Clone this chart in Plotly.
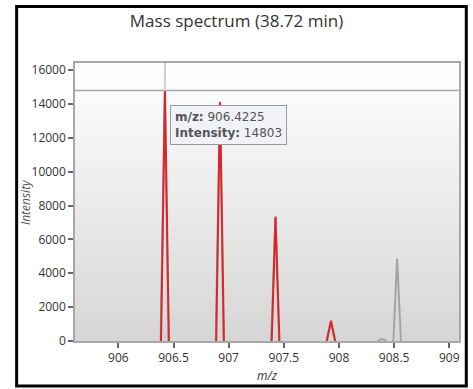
import plotly.graph_objects as go

# ── Data ──────────────────────────────────────────────────
# profile points of the matched isotope peaks (red)
red_mz = [906.387, 906.4225, 906.458, None,
          906.887, 906.922, 906.957, None,
          907.390, 907.425, 907.460, None,
          907.890, 907.928, 907.966]
red_int = [0, 14803, 0, None,
           0, 14120, 0, None,
           0, 7350, 0, None,
           0, 1200, 0]

# full measured profile (grey), drawn under the red one
grey_mz = [906.383, 906.4205, 906.455, None,
           906.883, 906.920, 906.954, None,
           907.386, 907.423, 907.457, None,
           907.886, 907.925, 907.962, None,
           908.350, 908.390, 908.430, None,
           908.493, 908.527, 908.562]
grey_int = [0, 14700, 0, None,
            0, 14050, 0, None,
            0, 7300, 0, None,
            0, 1150, 0, None,
            0, 130, 0, None,
            0, 4850, 0]

y_ticks = [0, 2000, 4000, 6000, 8000, 10000, 12000, 14000, 16000]
x_ticks = [906, 906.5, 907, 907.5, 908, 908.5, 909]

x_range = [905.607, 909.088]
y_range = [0, 16420]

sel_mz = 906.4225
sel_int = 14803

FONT = "Open Sans"

fig = go.Figure()

# ── Gradient plot background ──────────────────────────────
fig.add_trace(go.Scatter(
    x=[x_range[0], x_range[1], x_range[1], x_range[0], x_range[0]],
    y=[y_range[0], y_range[0], y_range[1], y_range[1], y_range[0]],
    mode="none", fill="toself",
    fillgradient=dict(type="vertical", start=y_range[0], stop=y_range[1],
                      colorscale=[[0, "#d6d6d6"], [0.5, "#ebebeb"], [1, "#ffffff"]]),
    hoverinfo="skip", showlegend=False,
))

fig.add_trace(go.Scatter(
    x=grey_mz, y=grey_int, mode="lines",
    line=dict(color="#a3a3a3", width=2),
    showlegend=False, hoverinfo="skip",
))
fig.add_trace(go.Scatter(
    x=red_mz, y=red_int, mode="lines",
    line=dict(color="#d9262b", width=2),
    showlegend=False, hoverinfo="skip",
))

# ── Hover crosshair + tooltip ─────────────────────────────
fig.add_shape(type="line", xref="x", yref="y",
              x0=x_range[0], x1=x_range[1], y0=sel_int, y1=sel_int,
              line=dict(color="#a8a8a8", width=1.5), layer="above")
fig.add_shape(type="line", xref="x", yref="y",
              x0=sel_mz, x1=sel_mz, y0=sel_int, y1=y_range[1],
              line=dict(color="#cfcfcf", width=2), layer="above")

fig.add_annotation(
    x=906.466, y=13920, xref="x", yref="y",
    xanchor="left", yanchor="top", align="left", showarrow=False,
    text="<b>m/z:</b> 906.4225<br><b>Intensity:</b> 14803",
    font=dict(family="DejaVu Sans", size=12, color="#555555"),
    bgcolor="#f1f2f8", bordercolor="#9a9a9a", borderwidth=1, borderpad=4,
)

# ── Outer black frame ─────────────────────────────────────
fig.add_shape(type="rect", xref="paper", yref="paper",
              x0=-0.152, x1=1.019, y0=-0.162, y1=1.203,
              line=dict(color="black", width=3), layer="above")

# axis titles
fig.add_annotation(x=-0.13, y=0.5, xref="paper", yref="paper",
                   xanchor="center", yanchor="middle",
                   text="<i>Intensity</i>", textangle=-90, showarrow=False,
                   font=dict(family=FONT, size=12, color="#555555"))
fig.add_annotation(x=0.5, y=-0.123, xref="paper", yref="paper",
                   xanchor="center", yanchor="middle",
                   text="<i>m/z</i>", showarrow=False,
                   font=dict(family=FONT, size=12, color="#333333"))

fig.update_layout(
    width=473, height=389,
    margin=dict(l=75, r=14, t=63, b=48),
    paper_bgcolor="white", plot_bgcolor="white",
    title=dict(text="Mass spectrum (38.72 min)", x=0.5, xanchor="center",
               y=0.945, yanchor="middle",
               font=dict(family=FONT, size=17, color="#333333")),
    font=dict(family=FONT, size=12, color="#333333"),
    hovermode=False,
)
fig.update_xaxes(range=x_range, tickvals=x_ticks, ticktext=[str(v) for v in x_ticks],
                 ticks="outside", ticklen=5, tickcolor="#666666", tickwidth=1.5,
                 showgrid=False, zeroline=False, showline=True, mirror=True,
                 linecolor="#a8a8a8", linewidth=1.5)
fig.update_yaxes(range=y_range, tickvals=y_ticks, ticktext=[str(v) for v in y_ticks],
                 ticks="outside", ticklen=5, tickcolor="#666666", tickwidth=1.5,
                 showgrid=False, zeroline=False, showline=True, mirror=True,
                 linecolor="#a8a8a8", linewidth=1.5)

# page has a default 8px body margin, drop it so the figure sits at 0,0
fig.write_html("out.html", config={"displayModeBar": False},
               post_script="document.body.style.margin='0';")
